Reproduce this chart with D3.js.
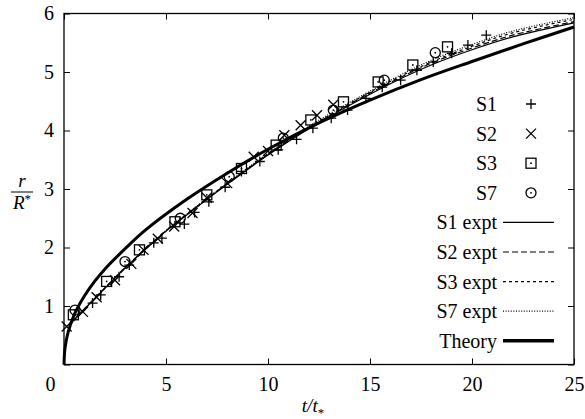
<!DOCTYPE html>
<html>
<head>
<meta charset="utf-8">
<script src="https://cdn.jsdelivr.net/npm/d3@7"></script>
<style>
  body { margin: 0; background: #fff; }
  text { font-family: "Liberation Serif", "Times New Roman", serif; fill: #000; }
</style>
</head>
<body>
<div class="chart"></div>
<script>
// r/R* against t/t* : experiments S1, S2, S3, S7, their fits, and theory

let xTicks = [0, 5, 10, 15, 20, 25];
let yTicks = [0, 1, 2, 3, 4, 5, 6];

// measured points [t, r]
let s1Points = [[1.4, 1.05], [1.8, 1.19], [2.7, 1.5], [3.2, 1.7], [4.4, 2.08], [4.8, 2.16], [5.9, 2.4],
  [6.4, 2.6], [7.1, 2.78], [7.9, 3.03], [8.7, 3.3], [9.6, 3.47], [10.5, 3.67], [11.4, 3.85], [12.2, 4.04],
  [13.1, 4.21], [13.9, 4.35], [14.8, 4.55], [15.6, 4.74], [16.5, 4.86], [17.3, 5.03], [18.1, 5.17],
  [19.0, 5.32], [19.8, 5.46], [20.7, 5.63]];
let s2Points = [[0.13, 0.65], [0.93, 0.9], [1.6, 1.15], [2.5, 1.44], [3.3, 1.72], [3.9, 1.96], [4.6, 2.15],
  [5.4, 2.36], [6.3, 2.59], [7.0, 2.85], [8.0, 3.1], [9.3, 3.55], [10.0, 3.65], [10.8, 3.92], [11.6, 4.09],
  [12.4, 4.26], [13.2, 4.44]];
let s3Points = [[0.46, 0.85], [2.09, 1.42], [3.7, 1.96], [5.44, 2.44], [7.0, 2.9], [8.7, 3.35], [10.4, 3.75],
  [12.1, 4.18], [13.7, 4.49], [15.4, 4.83], [17.1, 5.12], [18.8, 5.43]];
let s7Points = [[0.54, 0.93], [2.99, 1.76], [5.7, 2.5], [8.1, 3.21], [10.75, 3.87], [13.2, 4.35],
  [15.7, 4.86], [18.2, 5.33]];

// fitted curves, read at these t values
let curveT = [0.3, 1, 2, 3, 4, 5, 6, 7, 8, 10, 12, 14, 16, 18, 20, 22, 25];
let s1Expt = [0.7, 0.95, 1.3, 1.65, 1.97, 2.28, 2.55, 2.82, 3.08, 3.58, 4.03, 4.43, 4.8, 5.12, 5.38, 5.6, 5.84];
let s2Expt = [0.69, 0.95, 1.31, 1.66, 1.98, 2.29, 2.56, 2.83, 3.09, 3.59, 4.04, 4.45, 4.82, 5.15, 5.41, 5.63, 5.86];
let s3Expt = [0.68, 0.94, 1.3, 1.65, 1.97, 2.28, 2.56, 2.83, 3.09, 3.6, 4.05, 4.46, 4.84, 5.17, 5.44, 5.67, 5.9];
let s7Expt = [0.68, 0.94, 1.3, 1.65, 1.98, 2.29, 2.57, 2.84, 3.1, 3.61, 4.07, 4.48, 4.86, 5.2, 5.47, 5.7, 5.93];

let theoryT = [0, 0.05, 0.2, 0.5, 1, 1.5, 2, 3, 4, 6, 8, 10, 12.5, 15, 17.5, 20, 22.5, 25];
let theoryR = [0, 0.28, 0.55, 0.85, 1.17, 1.42, 1.63, 1.98, 2.3, 2.82, 3.27, 3.68, 4.13, 4.52, 4.87, 5.18, 5.48, 5.77];

let svgWidth = 585;
let svgHeight = 419;
let margin = { top: 13.5, right: 11, bottom: 54.5, left: 64 };
let width = svgWidth - margin.left - margin.right;
let height = svgHeight - margin.top - margin.bottom;

let svg = d3.select(".chart").append("svg")
  .attr("width", svgWidth)
  .attr("height", svgHeight);

let chartGroup = svg.append("g")
  .attr("transform", `translate(${margin.left}, ${margin.top})`);

let xScale = d3.scaleLinear().domain([0, 25]).range([0, width]);
let yScale = d3.scaleLinear().domain([0, 6]).range([height, 0]);

// axes with inward ticks on all four sides
let tickLen = 6;
let bottomAxis = chartGroup.append("g").attr("transform", `translate(0, ${height})`)
  .call(d3.axisBottom(xScale).tickValues(xTicks).tickSizeInner(-tickLen).tickSizeOuter(0).tickPadding(12));
let leftAxis = chartGroup.append("g")
  .call(d3.axisLeft(yScale).tickValues(yTicks).tickSizeInner(-tickLen).tickSizeOuter(0).tickPadding(10)
    .tickFormat(d => d === 0 ? "" : d));
chartGroup.append("g")
  .call(d3.axisTop(xScale).tickValues(xTicks).tickSizeInner(-tickLen).tickSizeOuter(0).tickFormat(""));
chartGroup.append("g").attr("transform", `translate(${width}, 0)`)
  .call(d3.axisRight(yScale).tickValues(yTicks).tickSizeInner(-tickLen).tickSizeOuter(0).tickFormat(""));

chartGroup.selectAll(".domain").remove();
chartGroup.selectAll(".tick line").attr("stroke", "#000").attr("stroke-width", 1);
chartGroup.selectAll(".tick text").attr("font-family", null).style("font-size", "20px")
  .style("font-family", "'Liberation Serif', serif");
// the shared origin label sits left of the corner
bottomAxis.selectAll(".tick text").filter(d => d === 0).attr("dx", -14);

chartGroup.append("rect")
  .attr("width", width).attr("height", height)
  .attr("fill", "none").attr("stroke", "#000").attr("stroke-width", 1.3);

// curves
let line = d3.line().x(d => xScale(d[0])).y(d => yScale(d[1])).curve(d3.curveCatmullRom.alpha(0.5));
let curves = [
  { name: "S1 expt", values: s1Expt, dash: null, w: 1.2 },
  { name: "S2 expt", values: s2Expt, dash: "6,3", w: 1.2 },
  { name: "S3 expt", values: s3Expt, dash: "3,3", w: 1.2 },
  { name: "S7 expt", values: s7Expt, dash: "1,1.6", w: 1.2 }
];
curves.forEach(c => {
  chartGroup.append("path")
    .datum(curveT.map((t, i) => [t, c.values[i]]))
    .attr("d", line)
    .attr("fill", "none").attr("stroke", "#000")
    .attr("stroke-width", c.w)
    .attr("stroke-dasharray", c.dash);
});
chartGroup.append("path")
  .datum(theoryT.map((t, i) => [t, theoryR[i]]))
  .attr("d", line)
  .attr("fill", "none").attr("stroke", "#000").attr("stroke-width", 3);

// point markers
function drawMarker(g, type) {
  let s = 5;
  if (type === "plus") {
    g.append("path").attr("d", `M${-s},0H${s}M0,${-s}V${s}`);
  } else if (type === "cross") {
    g.append("path").attr("d", `M${-s},${-s}L${s},${s}M${-s},${s}L${s},${-s}`);
  } else if (type === "square") {
    g.append("rect").attr("x", -s).attr("y", -s).attr("width", 2 * s).attr("height", 2 * s).attr("fill", "none");
    g.append("circle").attr("r", 0.9).attr("fill", "#000").attr("stroke", "none");
  } else if (type === "circle") {
    g.append("circle").attr("r", s).attr("fill", "none");
    g.append("circle").attr("r", 0.9).attr("fill", "#000").attr("stroke", "none");
  }
  g.attr("stroke", "#000").attr("stroke-width", 1.3);
}

let series = [
  { name: "S1", pts: s1Points, type: "plus" },
  { name: "S2", pts: s2Points, type: "cross" },
  { name: "S3", pts: s3Points, type: "square" },
  { name: "S7", pts: s7Points, type: "circle" }
];
series.forEach(s => {
  chartGroup.selectAll(null)
    .data(s.pts)
    .enter()
    .append("g")
    .attr("transform", d => `translate(${xScale(d[0])}, ${yScale(d[1])})`)
    .each(function() { drawMarker(d3.select(this), s.type); });
});

// legend
let legendRows = [
  { label: "S1", type: "plus" }, { label: "S2", type: "cross" },
  { label: "S3", type: "square" }, { label: "S7", type: "circle" },
  { label: "S1 expt", dash: null, w: 1.2 }, { label: "S2 expt", dash: "6,3", w: 1.2 },
  { label: "S3 expt", dash: "3,3", w: 1.2 }, { label: "S7 expt", dash: "1,1.6", w: 1.2 },
  { label: "Theory", dash: null, w: 3.5 }
];
let legend = svg.append("g");
legendRows.forEach((row, i) => {
  let y = 104 + i * 29.6;
  legend.append("text")
    .attr("x", 497).attr("y", y).attr("dy", "0.35em")
    .attr("text-anchor", "end")
    .style("font-size", "20px")
    .text(row.label);
  if (row.type) {
    drawMarker(legend.append("g").attr("transform", `translate(531, ${y})`), row.type);
  } else {
    legend.append("line")
      .attr("x1", 503).attr("x2", 554).attr("y1", y).attr("y2", y)
      .attr("stroke", "#000").attr("stroke-width", row.w)
      .attr("stroke-dasharray", row.dash);
  }
});

// axis titles
let yTitle = svg.append("g").attr("transform", "translate(22, 192)");
yTitle.append("text").attr("y", -5).attr("text-anchor", "middle")
  .style("font-size", "19px").style("font-style", "italic").text("r");
yTitle.append("line").attr("x1", -11).attr("x2", 11).attr("y1", 0).attr("y2", 0)
  .attr("stroke", "#000").attr("stroke-width", 1);
let rStar = yTitle.append("text").attr("y", 17).attr("text-anchor", "middle")
  .style("font-size", "19px").style("font-style", "italic");
rStar.append("tspan").text("R");
rStar.append("tspan").attr("dy", -6).style("font-size", "13px").style("font-style", "normal").text("*");

let xTitle = svg.append("text")
  .attr("x", 313).attr("y", 412)
  .attr("text-anchor", "middle")
  .style("font-size", "19px").style("font-style", "italic");
xTitle.append("tspan").text("t/t");
xTitle.append("tspan").attr("dy", 5).style("font-size", "13px").style("font-style", "normal").text("*");
</script>
</body>
</html>
